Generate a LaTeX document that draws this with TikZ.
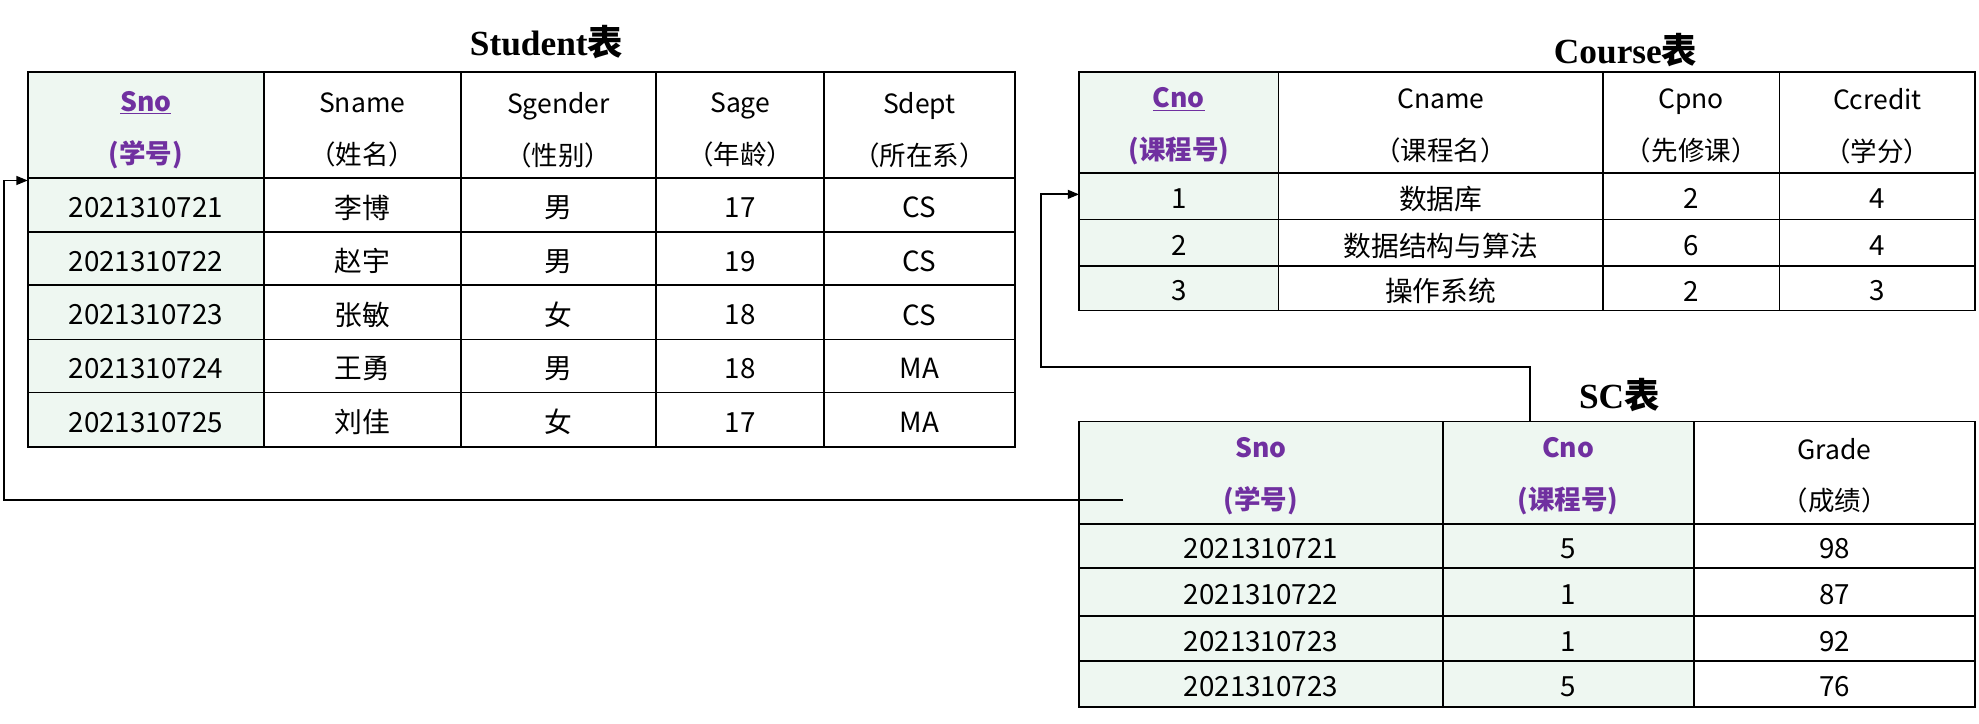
\documentclass[tikz,border=0pt]{standalone}
\usepackage{fontspec}
\setmainfont{Noto Sans CJK SC}
\newfontfamily\titlefont{Liberation Serif}
\newfontfamily\titlecjk{Noto Sans CJK SC}
\usetikzlibrary{arrows.meta}
\definecolor{cellgreen}{HTML}{EEF7F1}
\definecolor{keypurple}{HTML}{7030A0}
\begin{document}
\begin{tikzpicture}[x=1pt,y=-1pt,
  cell/.style={font=\fontsize{22}{24}\selectfont,inner sep=0pt,yshift=-2pt},
  hdr/.style={font=\fontsize{21}{41}\selectfont,align=center,inner sep=0pt,yshift=-2pt},
  key/.style={hdr,text=keypurple,font=\fontsize{21}{41}\selectfont\bfseries},
  ttl/.style={font=\fontsize{28}{30}\selectfont\bfseries\titlefont},
  grid/.style={line width=1.4pt},
  conn/.style={line width=1.4pt,-{Triangle[length=9pt,width=7pt]}}]
\useasboundingbox (0,0) rectangle (1568,573);
% ---------- Student ----------
\fill[cellgreen] (22,57) rectangle (209,354);
\draw[grid] (22,57) rectangle (804,354);
\foreach \x in {209,365,520,653} \draw[grid] (\x,57) -- (\x,354);
\foreach \y in {141,184,226,269,311} \draw[grid] (22,\y) -- (804,\y);
\node[ttl] (tS) at (433,33) {Student{\titlecjk 表}};
\node[key] (sSno) at (115.5,101) {\underline{Sno}\\(学号)};
\node[hdr] at (287,101) {Sname\\（姓名）};
\node[hdr] at (442.5,101) {Sgender\\（性别）};
\node[hdr] at (586.5,101) {Sage\\（年龄）};
\node[hdr] at (728.5,101) {Sdept\\（所在系）};
\foreach \y/\a/\b/\c/\d/\e in {162.5/2021310721/李博/男/17/CS,205/2021310722/赵宇/男/19/CS,247.5/2021310723/张敏/女/18/CS,290/2021310724/王勇/男/18/MA,332.5/2021310725/刘佳/女/17/MA}{
  \node[cell] at (115.5,\y) {\a};
  \node[cell] at (287,\y) {\b};
  \node[cell] at (442.5,\y) {\c};
  \node[cell] at (586.5,\y) {\d};
  \node[cell] at (728.5,\y) {\e};}
\coordinate (sIn) at (22,143);
% ---------- Course ----------
\fill[cellgreen] (855,57) rectangle (1013,246);
\draw[grid] (855,57) rectangle (1565,246);
\foreach \x in {1013,1270,1410} \draw[grid] (\x,57) -- (\x,246);
\foreach \y in {137,174,211} \draw[grid] (855,\y) -- (1565,\y);
\node[ttl] (tC) at (1288,40) {Course{\titlecjk 表}};
\node[key] at (934,98) {\underline{Cno}\\(课程号)};
\node[hdr] at (1141.5,98) {Cname\\（课程名）};
\node[hdr] at (1340,98) {Cpno\\（先修课）};
\node[hdr] at (1487.5,98) {Ccredit\\（学分）};
\foreach \y/\a/\b/\c/\d in {155.5/1/数据库/2/4,192.5/2/数据结构与算法/6/4,228.5/3/操作系统/2/3}{
  \node[cell] at (934,\y) {\a};
  \node[cell] at (1141.5,\y) {\b};
  \node[cell] at (1340,\y) {\c};
  \node[cell] at (1487.5,\y) {\d};}
\coordinate (cIn) at (855,154);
% ---------- SC ----------
\fill[cellgreen] (855,334) rectangle (1342,560);
\draw[grid] (855,334) rectangle (1565,560);
\foreach \x in {1143,1342} \draw[grid] (\x,334) -- (\x,560);
\foreach \y in {415,450,488,524} \draw[grid] (855,\y) -- (1565,\y);
\node[ttl] (tSC) at (1283,313) {SC{\titlecjk 表}};
\node[key] (scSno) at (999,375) {Sno\\(学号)};
\node[key] at (1242.5,375) {Cno\\(课程号)};
\node[hdr] at (1453.5,375) {Grade\\（成绩）};
\foreach \y/\a/\b/\c in {432.5/2021310721/5/98,469/2021310722/1/87,506/2021310723/1/92,542/2021310723/5/76}{
  \node[cell] at (999,\y) {\a};
  \node[cell] at (1242.5,\y) {\b};
  \node[cell] at (1453.5,\y) {\c};}
\coordinate (scL) at (890,396);
\coordinate (scT) at (1212,334);
% ---------- connectors ----------
\draw[conn] (scL) -- (3,396) |- (sIn);
\draw[conn] (scT) -- (1212,291) -| (825,154) -- (cIn);
\end{tikzpicture}
\end{document}
